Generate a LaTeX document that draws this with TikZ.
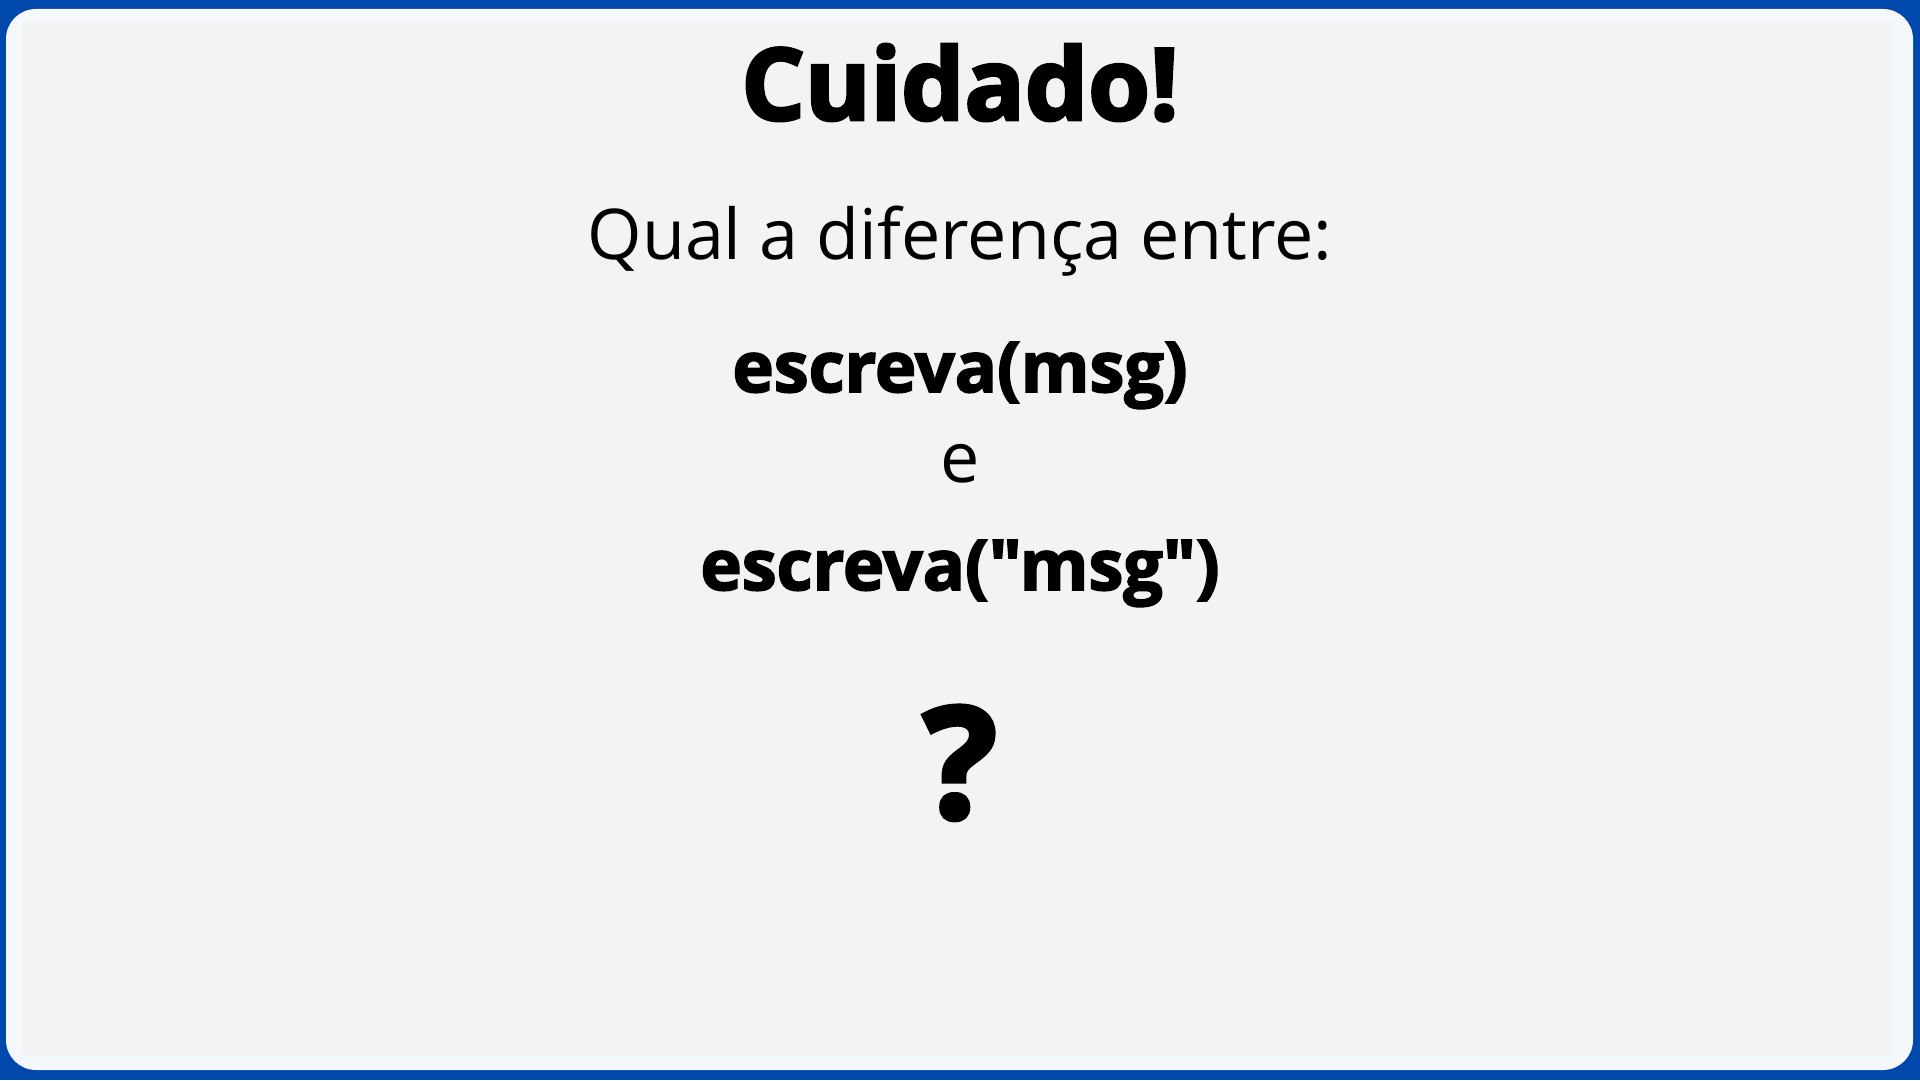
\documentclass[tikz,border=0pt]{standalone}
\usepackage{fontspec}
\setmainfont{Open Sans}[Ligatures=TeXOff]
\usepackage{tikz}
\usetikzlibrary{positioning}

\definecolor{moldura}{RGB}{0,72,172}
\definecolor{painel}{RGB}{244,247,252}
\definecolor{fundo}{RGB}{242,243,243}

\begin{document}
\begin{tikzpicture}[x=1pt,y=1pt,
    titulo/.style={anchor=base, inner sep=0pt, font=\fontsize{100}{104}\selectfont\bfseries\addfontfeature{FakeBold=3}},
    texto/.style={anchor=base, inner sep=0pt, font=\fontsize{70}{74}\selectfont},
    codigo/.style={anchor=base, inner sep=0pt, font=\fontsize{70}{74}\selectfont\bfseries\addfontfeature{FakeBold=2.5}}]
      \useasboundingbox (0,0) rectangle (1920,1080);
      \fill[moldura] (0,0) rectangle (1920,1080);
      \fill[painel, rounded corners=30pt] (6,10) rectangle (1913,1071);
      \fill[fundo] (22,25) rectangle (1892,1058);

      \node[titulo] (title) at (960,960) {Cuidado!};
      \node[texto] (question) at (960,820) {Qual a diferença entre:};
      \node[codigo] (callA) at (960,688) {escreva(msg)};
      \node[texto] (conj) at (960,597) {e};
      \node[codigo] (callB) at (960,490) {escreva("msg")};
      \node[titulo, font=\fontsize{155}{160}\selectfont\bfseries\addfontfeature{FakeBold=3}] (qmark) at (960,262) {?};
    \end{tikzpicture}
\end{document}
